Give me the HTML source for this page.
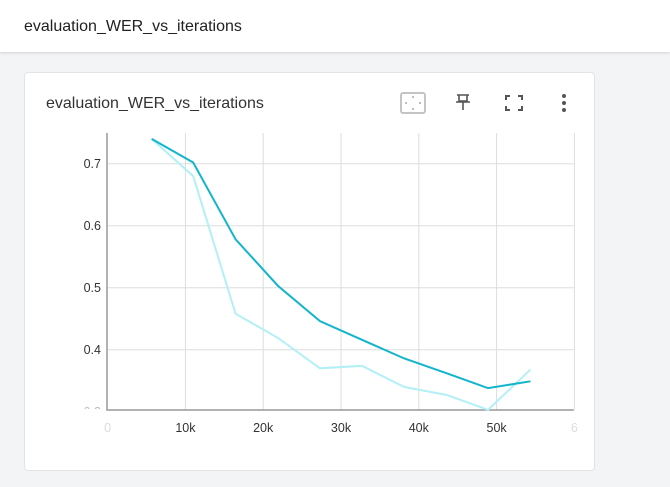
<!DOCTYPE html>
<html><head><meta charset="utf-8"><style>
body{margin:0;width:670px;height:487px;background:#f3f4f6;font-family:"Liberation Sans",sans-serif;overflow:hidden;position:relative}
#topbar{position:absolute;left:0;top:0;width:670px;height:52px;background:#fff;box-shadow:0 1px 3px rgba(0,0,0,.15)}
#toptitle{position:absolute;left:24px;top:18px;font-size:16px;color:#212121}
#card{position:absolute;left:24px;top:72px;width:569px;height:397px;background:#fff;border:1px solid #e3e3e3;border-radius:4px}
#cardtitle{position:absolute;left:21px;top:22px;font-size:16px;color:#333}
svg{position:absolute;left:0;top:0}
</style></head><body>
<div id="topbar"><div id="toptitle">evaluation_WER_vs_iterations</div></div>
<div id="card"><div id="cardtitle">evaluation_WER_vs_iterations</div></div>
<svg id="chart" width="670" height="487">
<defs><clipPath id="cl"><rect x="0" y="0" width="670" height="409"/></clipPath></defs>
<g><rect x="401" y="93" width="24" height="20" rx="2" fill="none" stroke="#c4c4c4" stroke-width="2"/><circle cx="413" cy="97" r="1" fill="#aaa"/><circle cx="413" cy="109" r="1" fill="#aaa"/><circle cx="406" cy="103" r="1" fill="#aaa"/><circle cx="420" cy="103" r="1" fill="#aaa"/></g>
<g stroke="#555" stroke-width="1.6" fill="none"><path d="M457 95h12M459 95v6h8v-6M456 102h14M463 102v8"/></g>
<g stroke="#555" stroke-width="2" fill="none"><path d="M506 100v-4h4M518 96h4v4M522 106v4h-4M510 110h-4v-4"/></g>
<g fill="#555"><circle cx="564" cy="96" r="2"/><circle cx="564" cy="103" r="2"/><circle cx="564" cy="110" r="2"/></g>
<g id="grid"></g><g id="lines"></g><g id="labels"></g>
</svg>
<script>
const xs=[5660,11000,16450,21900,27300,32700,38100,43600,48900,54350];
const smoothed=[0.740,0.702,0.578,0.503,0.446,0.416,0.386,0.362,0.338,0.349];
const raw=[0.740,0.680,0.458,0.419,0.370,0.374,0.340,0.327,0.303,0.368];
const xTicks=[0,10000,20000,30000,40000,50000,60000];
const xTickLabels=["0","10k","20k","30k","40k","50k","6"];
const yTicks=[0.3,0.4,0.5,0.6,0.7];
const yTickLabels=["0.3","0.4","0.5","0.6","0.7"];
const NS="http://www.w3.org/2000/svg";
const X=v=>107.6+v/10000*77.8, Y=v=>163.7-(v-0.7)/0.1*62;
const L=107,R=573.8,T=133,B=410;
const g=document.getElementById('grid'),ln=document.getElementById('lines'),lb=document.getElementById('labels');
function mk(tag,a,p){const e=document.createElementNS(NS,tag);for(const k in a)e.setAttribute(k,a[k]);p.appendChild(e);return e;}
xTicks.forEach((t,i)=>{if(i>0){const e=mk('line',{x1:X(t),x2:X(t),y1:T,y2:B,stroke:'#ddd','stroke-width':1},g);

}
const tx=mk('text',{x:X(t),y:432,'text-anchor':'middle','font-size':12.5,fill:(i==0||i==6)?'#ddd':'#333','font-family':'Liberation Sans'},lb);tx.textContent=xTickLabels[i];

});
yTicks.forEach((t,i)=>{if(i>0){const e=mk('line',{x1:L,x2:R,y1:Y(t),y2:Y(t),stroke:'#ddd','stroke-width':1},g);

}
const tx=mk('text',{x:101,y:Y(t)+4.5,'text-anchor':'end','font-size':12.5,fill:i==0?'#bbb':'#333','font-family':'Liberation Sans','clip-path':'url(#cl)'},lb);tx.textContent=yTickLabels[i];

});
const ax=mk('path',{d:`M${L} ${T}V${B}H${R}`,stroke:'#999','stroke-width':1.5,fill:'none'},g);


const p1=mk('polyline',{points:xs.map((x,i)=>X(x)+','+Y(raw[i])).join(' '),fill:'none',stroke:'#b3f0f5','stroke-width':2},ln);


const p2=mk('polyline',{points:xs.map((x,i)=>X(x)+','+Y(smoothed[i])).join(' '),fill:'none',stroke:'#12b5cb','stroke-width':2},ln);


</script>
</body></html>
